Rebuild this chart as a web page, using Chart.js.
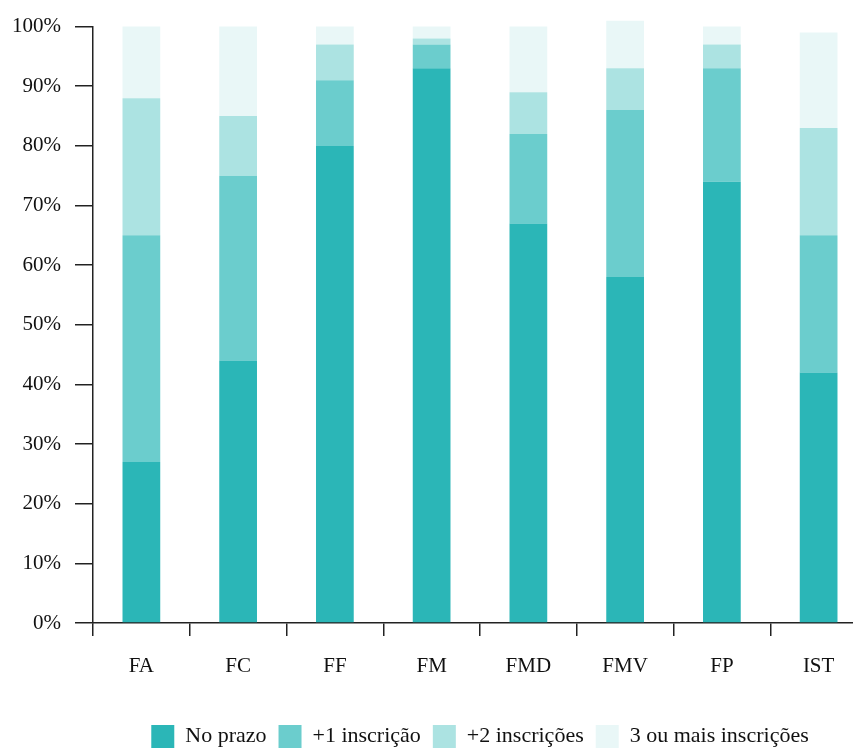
<!DOCTYPE html>
<html>
<head>
<meta charset="utf-8">
<script src="https://cdn.jsdelivr.net/npm/chart.js@4"></script>
<style>
  html, body { margin: 0; padding: 0; overflow: hidden; background: #fff; }
</style>
</head>
<body>
<canvas id="chart" width="867" height="758"></canvas>
<script>
const faculdades = ['FA', 'FC', 'FF', 'FM', 'FMD', 'FMV', 'FP', 'IST'];
const noPrazo = [27, 44, 80, 93, 67, 58, 74, 42];
const mais1 = [38, 31, 11, 4, 15, 28, 19, 23];
const mais2 = [23, 10, 6, 1, 7, 7, 4, 18];
const mais3 = [12, 15, 3, 2, 11, 8, 3, 16];
const seriesNames = ['No prazo', '+1 inscrição', '+2 inscrições', '3 ou mais inscrições'];
const colors = ['#2bb6b7', '#6bcdcd', '#ace3e2', '#e9f7f7'];

const serif = '"Liberation Serif", "Times New Roman", serif';

document.addEventListener('DOMContentLoaded', () => {
  const ctx = document.getElementById('chart').getContext('2d');
  const series = [noPrazo, mais1, mais2, mais3];
  new Chart(ctx, {
    type: 'bar',
    data: {
      labels: faculdades,
      datasets: series.map((d, i) => ({
        label: seriesNames[i],
        data: d,
        backgroundColor: colors[i],
        borderWidth: 0,
        stack: 's',
        clip: false,
        categoryPercentage: 1,
        barPercentage: 0.39
      }))
    },
    options: {
      responsive: false,
      animation: false,
      layout: { padding: { top: 21, left: 0, right: 0, bottom: 0 } },
      plugins: {
        tooltip: { enabled: false },
        legend: {
          position: 'bottom',
          fullSize: false,
          labels: {
            boxWidth: 23,
            boxHeight: 23,
            padding: 12,
            color: '#111',
            font: { family: serif, size: 22 }
          }
        }
      },
      scales: {
        x: {
          stacked: true,
          grid: { drawOnChartArea: false, offset: true, color: '#222', lineWidth: 1.5, tickLength: 13 },
          border: { color: '#222', width: 1.5 },
          ticks: { color: '#111', font: { family: serif, size: 21 }, padding: 18 },
          afterFit: s => { s.height = 90; }
        },
        y: {
          stacked: true,
          min: 0,
          max: 100,
          grid: { drawOnChartArea: false, color: '#222', lineWidth: 1.5, tickLength: 18 },
          border: { color: '#222', width: 1.5 },
          ticks: {
            stepSize: 10,
            color: '#111',
            padding: 14,
            font: { family: serif, size: 21 },
            callback: v => v + '%'
          },
          afterFit: s => { s.width = 93; }
        }
      }
    }
  });
});
</script>
</body>
</html>
